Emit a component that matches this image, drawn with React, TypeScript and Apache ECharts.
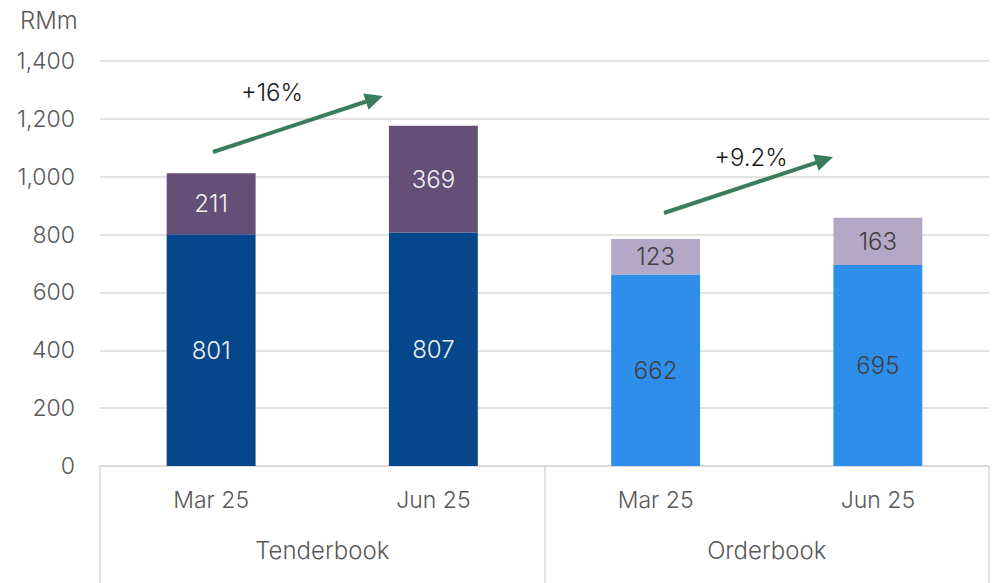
import React, { useEffect, useRef } from "react";
import * as echarts from "echarts";

const categories = ["Mar 25", "Jun 25", "Mar 25", "Jun 25"];
const groups = ["Tenderbook", "Orderbook"];
const baseValues = [801, 807, 662, 695];
const topValues = [211, 369, 123, 163];
const baseColors = ["#05478A", "#05478A", "#2E8FEA", "#2E8FEA"];
const topColors = ["#654F79", "#654F79", "#B3A8C6", "#B3A8C6"];
const labelColors = ["#F2F2F2", "#F2F2F2", "#404040", "#404040"];
const yTicks = { min: 0, max: 1400, interval: 200 };
const growthLabels = ["+16%", "+9.2%"];

const FONT = "Inter, 'Noto Sans', sans-serif";
const W = 300;

function arrow(x1: number, y1: number, x2: number, y2: number, color: string) {
  const dx = x2 - x1;
  const dy = y2 - y1;
  const len = Math.sqrt(dx * dx + dy * dy);
  const ux = dx / len;
  const uy = dy / len;
  const headLen = 18;
  const headW = 8.5;
  const bx = x2 - ux * headLen;
  const by = y2 - uy * headLen;
  const px = -uy;
  const py = ux;
  return [
    {
      type: "line",
      shape: { x1, y1, x2: bx + ux * 2, y2: by + uy * 2 },
      style: { stroke: color, lineWidth: 4 },
      z: 10,
    },
    {
      type: "polygon",
      shape: {
        points: [
          [x2, y2],
          [bx + px * headW, by + py * headW],
          [bx - px * headW, by - py * headW],
        ],
      },
      style: { fill: color },
      z: 10,
    },
  ];
}

export default function App() {
  const ref = useRef<HTMLDivElement>(null);
  useEffect(() => {
    document.body.style.margin = "0";
    const chart = echarts.init(ref.current!, null, { renderer: "svg" });
    const green = "#3A7D5E";
    chart.setOption({
      animation: false,
      title: {
        text: "RMm",
        left: 15,
        top: 3,
        textStyle: { fontFamily: FONT, fontSize: 24, fontWeight: W, color: "#595959" },
      },
      grid: { left: 100, right: 14, top: 61, bottom: 117 },
      xAxis: [
        {
          type: "category",
          data: categories,
          position: "bottom",
          axisLine: { show: false },
          axisTick: { show: false },
          axisLabel: { margin: 22, fontFamily: FONT, fontSize: 23, fontWeight: W, color: "#595959" },
        },
        {
          type: "category",
          data: groups,
          position: "bottom",
          axisLine: { show: true, lineStyle: { color: "#D9D9D9", width: 1.5 } },
          axisTick: { show: true, length: 120, lineStyle: { color: "#D9D9D9", width: 1.5 } },
          axisLabel: { margin: 72, fontFamily: FONT, fontSize: 24, fontWeight: W, color: "#595959" },
        },
      ],
      yAxis: {
        type: "value",
        min: yTicks.min,
        max: yTicks.max,
        interval: yTicks.interval,
        axisLine: { show: false },
        axisTick: { show: false },
        splitLine: { lineStyle: { color: "#D9D9D9", width: 1.5 } },
        axisLabel: {
          margin: 25,
          fontFamily: FONT,
          fontSize: 23,
          fontWeight: W,
          color: "#595959",
          formatter: (v: number) => v.toLocaleString("en-US"),
        },
      },
      series: [
        {
          type: "bar",
          stack: "total",
          xAxisIndex: 0,
          barWidth: "40%",
          data: baseValues.map((v, i) => ({
            value: v,
            itemStyle: { color: baseColors[i] },
            label: { color: labelColors[i] },
          })),
          label: { show: true, position: "inside", fontFamily: FONT, fontSize: 24, fontWeight: W },
        },
        {
          type: "bar",
          stack: "total",
          xAxisIndex: 0,
          barWidth: "40%",
          data: topValues.map((v, i) => ({
            value: v,
            itemStyle: { color: topColors[i] },
            label: { color: labelColors[i] },
          })),
          label: { show: true, position: "inside", fontFamily: FONT, fontSize: 24, fontWeight: W },
        },
      ],
      graphic: [
        ...arrow(213, 152, 383, 96, green),
        ...arrow(664, 213, 833, 157, green),
        {
          type: "text",
          x: 272,
          y: 92,
          style: {
            text: growthLabels[0],
            fontFamily: FONT,
            fontSize: 24,
            fontWeight: W,
            fill: "#1A1A1A",
            textAlign: "center",
            textVerticalAlign: "middle",
          },
          z: 10,
        },
        {
          type: "text",
          x: 751,
          y: 157,
          style: {
            text: growthLabels[1],
            fontFamily: FONT,
            fontSize: 24,
            fontWeight: W,
            fill: "#1A1A1A",
            textAlign: "center",
            textVerticalAlign: "middle",
          },
          z: 10,
        },
      ],
    });
    return () => chart.dispose();
  }, []);
  return <div ref={ref} style={{ width: 1003, height: 583 }} />;
}
